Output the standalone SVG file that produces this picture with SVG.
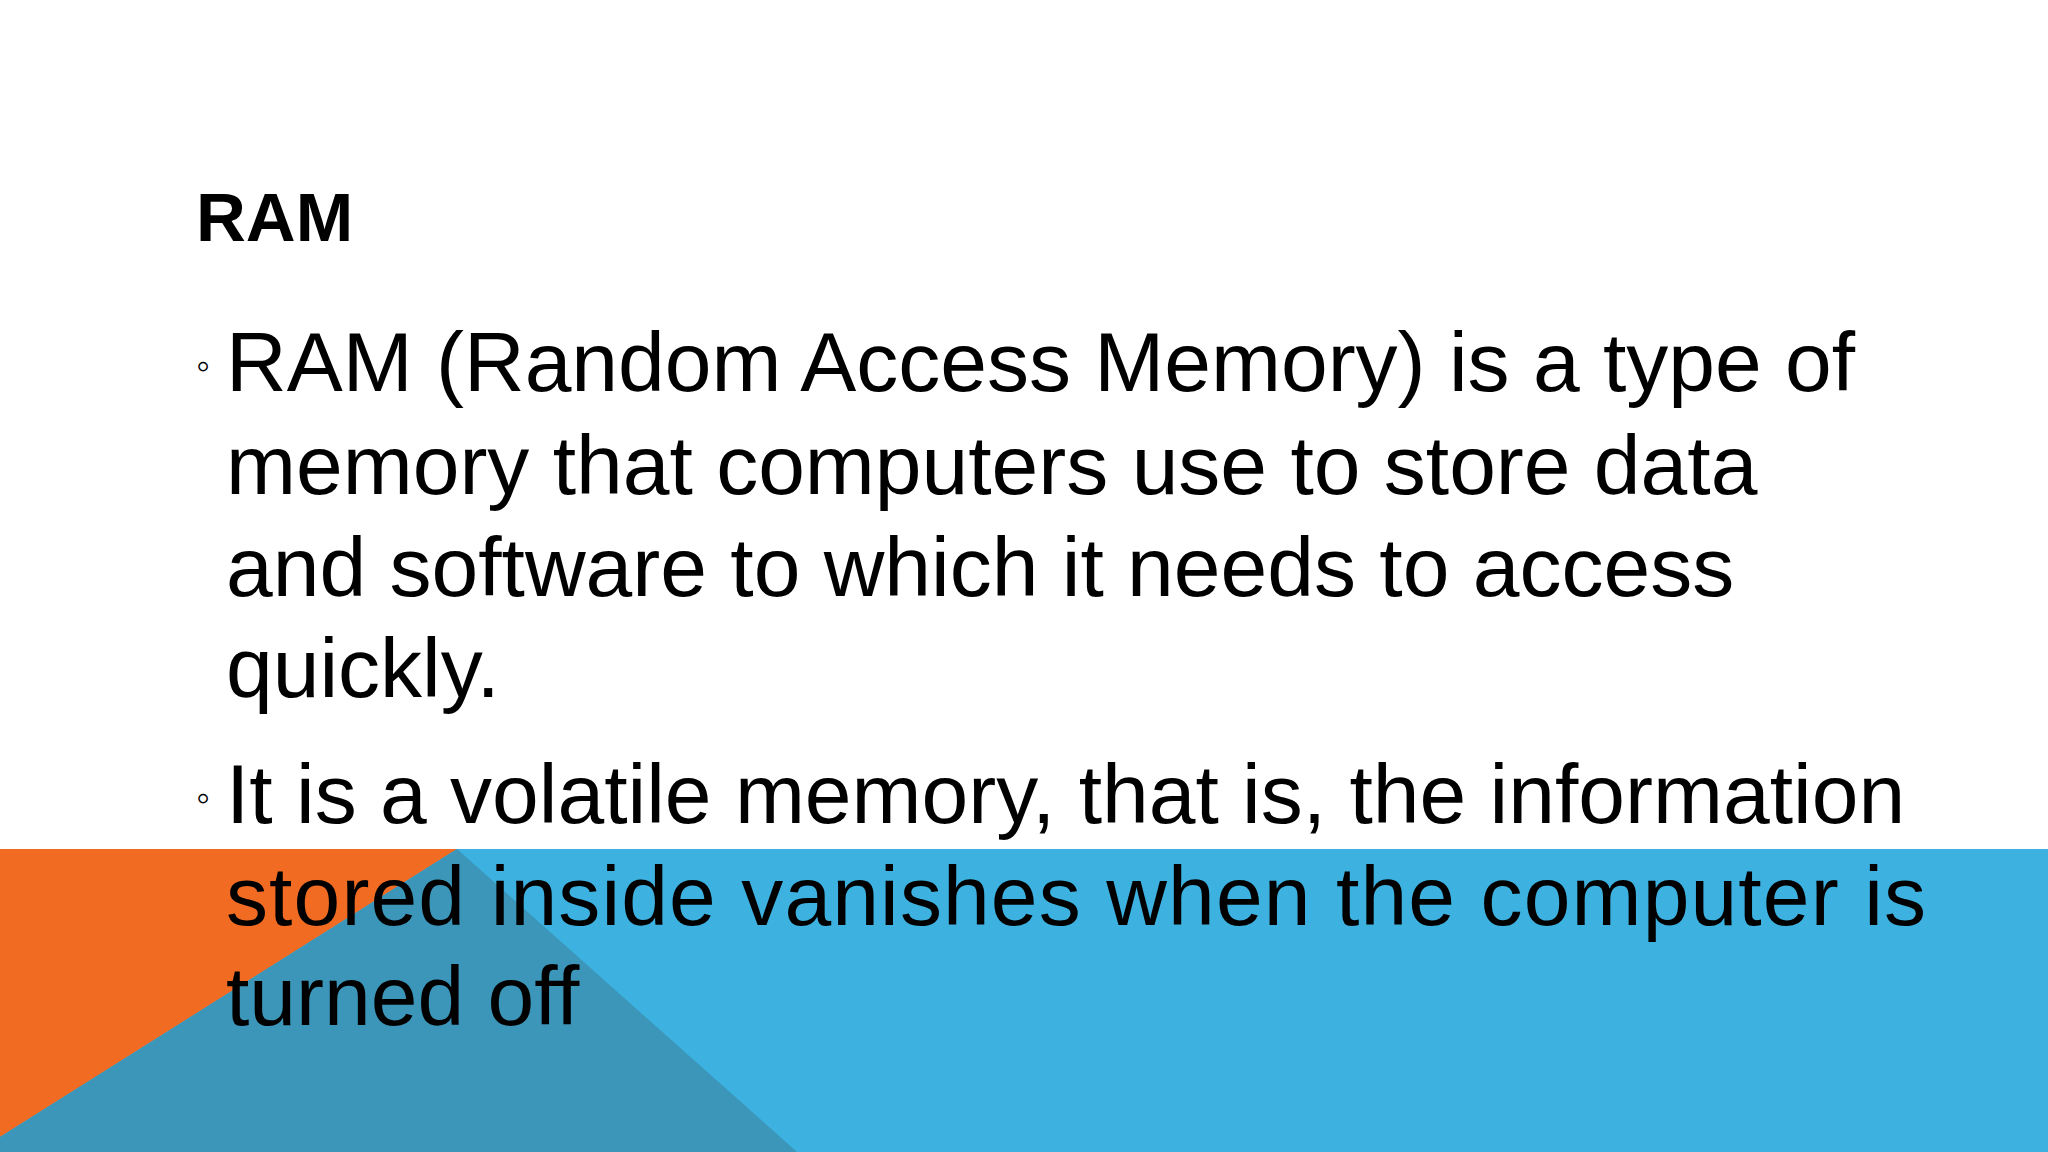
<svg xmlns="http://www.w3.org/2000/svg" width="2048" height="1152" viewBox="0 0 2048 1152">
<style>
.b{font-family:"Liberation Sans",Arial,sans-serif;font-size:84px;fill:#000}
.u{font-family:"Liberation Sans",Arial,sans-serif;font-size:40px;fill:#000}
</style>
<rect width="2048" height="1152" fill="#fff"/>
<g id="band">
<rect x="0" y="849" width="2048" height="303" fill="#3DB1E0"/>
<polygon points="0,849 457,849 0,1137" fill="#F26B22"/>
<polygon points="457,849 797,1152 0,1152 0,1137" fill="#3B96B9"/>
</g>
<g id="title"><text x="196" y="241" font-family="Liberation Sans,Arial,sans-serif" font-weight="bold" font-size="69">RAM</text></g>
<g id="body">
<text class="u" x="196" y="379">◦</text>
<text class="b" x="226" y="391">RAM (Random Access Memory) is a type of</text>
<text class="b" x="226" y="494">memory that computers use to store data</text>
<text class="b" x="226" y="596">and software to which it needs to access</text>
<text class="b" x="226" y="697">quickly.</text>
<text class="u" x="196" y="811">◦</text>
<text class="b" x="226" y="823">It is a volatile memory, that is, the information</text>
<text class="b" x="226" y="925" textLength="1700" lengthAdjust="spacing">stored inside vanishes when the computer is</text>
<text class="b" x="226" y="1025">turned off</text>
</g>
</svg>
